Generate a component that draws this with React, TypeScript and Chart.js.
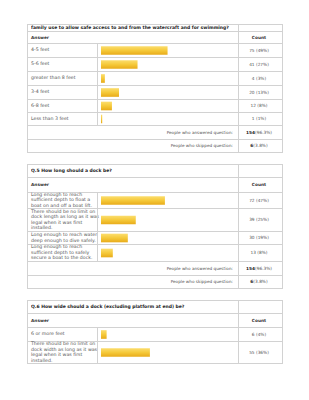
import React, { useEffect, useRef } from "react";
import { Chart, registerables } from "chart.js";

Chart.register(...registerables);

// ---------- data ----------
const q4Title = "family use to allow safe access to and from the watercraft and for swimming?";
const q4Answers = ["4-5 feet", "5-6 feet", "greater than 8 feet", "3-4 feet", "6-8 feet", "Less than 3 feet"];
const q4Counts = [75, 41, 4, 20, 12, 1];
const q4Percents = ["49%", "27%", "3%", "13%", "8%", "1%"];

const q5Title = "Q.5 How long should a dock be?";
const q5Answers = [
  "Long enough to reach\nsufficient depth to float a\nboat on and off a boat lift.",
  "There should be no limit on\ndock length as long as it was\nlegal when it was first\ninstalled.",
  "Long enough to reach water\ndeep enough to dive safely.",
  "Long enough to reach\nsufficient depth to safely\nsecure a boat to the dock.",
];
const q5Counts = [72, 39, 30, 13];
const q5Percents = ["47%", "25%", "19%", "8%"];

const q6Title = "Q.6 How wide should a dock (excluding platform at end) be?";
const q6Answers = [
  "6 or more feet",
  "There should be no limit on\ndock width as long as it was\nlegal when it was first\ninstalled.",
];
const q6Counts = [6, 55];
const q6Percents = ["4%", "36%"];

const answeredCounts = [154, 154, 154];
const answeredPercents = ["96.3%", "96.3%", "96.3%"];
const skippedCounts = [6, 6, 6];
const skippedPercents = ["3.8%", "3.8%", "3.8%"];

const headerAnswer = "Answer";
const headerCount = "Count";
const answeredLabel = "People who answered question:";
const skippedLabel = "People who skipped question:";

// ---------- layout ----------
const L = 27;
const R = 282;
const C1 = 97;
const C2 = 238;
const BAR_X = 101;
const BAR_W = 136;
const BORDER = "#d2d2d2";
const FONT = "'DejaVu Sans', Verdana, sans-serif";
const COUNT_CENTER = 259;

function BarCell({ value, max, top, height }: { value: number; max: number; top: number; height: number }) {
  const ref = useRef<HTMLCanvasElement>(null);
  useEffect(() => {
    const chart = new Chart(ref.current!, {
      type: "bar",
      data: {
        labels: [""],
        datasets: [
          {
            data: [value],
            backgroundColor: (c: any) => {
              const ch = c.chart;
              const area = ch.chartArea;
              if (!area) return "#f3c433";
              const mid = (area.top + area.bottom) / 2;
              const g = ch.ctx.createLinearGradient(0, mid - 4, 0, mid + 4);
              g.addColorStop(0, "#fbdc6a");
              g.addColorStop(0.5, "#f5c93a");
              g.addColorStop(1, "#e9ad1c");
              return g;
            },
            borderWidth: 0,
            barThickness: 8,
          },
        ],
      },
      options: {
        indexAxis: "y",
        animation: false,
        responsive: false,
        events: [],
        layout: { padding: 0 },
        scales: {
          x: { display: false, min: 0, max },
          y: { display: false },
        },
        plugins: { legend: { display: false }, tooltip: { enabled: false } },
      } as any,
    });
    return () => chart.destroy();
  }, [value, max, height]);
  return (
    <canvas
      ref={ref}
      width={BAR_W}
      height={height}
      style={{ position: "absolute", left: BAR_X, top, width: BAR_W, height }}
    />
  );
}

function HLine({ y, x1 = L, x2 = R }: { y: number; x1?: number; x2?: number }) {
  return <div style={{ position: "absolute", left: x1, top: y, width: x2 - x1 + 1, height: 1, background: BORDER }} />;
}
function VLine({ x, y1, y2 }: { x: number; y1: number; y2: number }) {
  return <div style={{ position: "absolute", left: x, top: y1, width: 1, height: y2 - y1, background: BORDER }} />;
}

function Table(props: {
  top: number;
  titleH: number;
  headerH: number;
  rowHeights: number[];
  footer: boolean;
  title: string;
  answers: string[];
  counts: number[];
  percents: string[];
  answered: number;
  answeredPct: string;
  skipped: number;
  skippedPct: string;
}) {
  const { top, titleH, headerH, rowHeights, footer } = props;
  const els: React.ReactNode[] = [];
  let y = top;
  // title
  els.push(
    <div
      key="title"
      style={{
        position: "absolute",
        left: L + 4,
        top: y,
        height: titleH,
        width: C2 - L - 6,
        display: "flex",
        alignItems: "center",
        font: `bold 4.5px ${FONT}`,
        color: "#222",
        whiteSpace: "nowrap",
        overflow: "hidden",
      }}
    >
      {props.title}
    </div>
  );
  y += titleH;
  els.push(<HLine key="ht" y={y} />);
  // header
  els.push(
    <div
      key="ha"
      style={{ position: "absolute", left: L + 4, top: y, height: headerH, display: "flex", alignItems: "center", font: `bold 4.3px ${FONT}`, color: "#333" }}
    >
      {headerAnswer}
    </div>
  );
  els.push(
    <div
      key="hc"
      style={{ position: "absolute", left: COUNT_CENTER - 20, width: 40, top: y, height: headerH, display: "flex", alignItems: "center", justifyContent: "center", font: `bold 4.3px ${FONT}`, color: "#333" }}
    >
      {headerCount}
    </div>
  );
  y += headerH;
  const rowsTop = y;
  props.answers.forEach((a, i) => {
    const h = rowHeights[i];
    els.push(<HLine key={"hr" + i} y={y} />);
    els.push(
      <div
        key={"lab" + i}
        style={{
          position: "absolute",
          left: L + 4,
          top: y,
          height: h,
          width: C1 - L - 5,
          display: "flex",
          alignItems: "center",
          font: `4.7px ${FONT}`,
          lineHeight: "5.5px",
          color: "#555",
          whiteSpace: "pre",
        }}
      >
        {a}
      </div>
    );
    els.push(<BarCell key={"bar" + i} value={props.counts[i]} max={props.answered} top={y + 1} height={h - 1} />);
    els.push(
      <div
        key={"cnt" + i}
        style={{ position: "absolute", left: COUNT_CENTER - 20, width: 40, top: y, height: h, display: "flex", alignItems: "center", justifyContent: "center", font: `4.3px ${FONT}`, color: "#555", whiteSpace: "pre" }}
      >
        {`${props.counts[i]} (${props.percents[i]})`}
      </div>
    );
    y += h;
  });
  els.push(<VLine key="vc1" x={C1} y1={rowsTop} y2={y} />);
  if (footer) {
    const fh = [14, 13];
    const labels = [answeredLabel, skippedLabel];
    const nums = [props.answered, props.skipped];
    const pcts = [props.answeredPct, props.skippedPct];
    fh.forEach((h, i) => {
      els.push(<HLine key={"hf" + i} y={y} />);
      els.push(
        <div
          key={"fl" + i}
          style={{ position: "absolute", left: L, width: C2 - L - 5, top: y, height: h, display: "flex", alignItems: "center", justifyContent: "flex-end", font: `4.2px ${FONT}`, color: "#555", whiteSpace: "pre" }}
        >
          {labels[i]}
        </div>
      );
      els.push(
        <div
          key={"fc" + i}
          style={{ position: "absolute", left: COUNT_CENTER - 20, width: 40, top: y, height: h, display: "flex", alignItems: "center", justifyContent: "center", font: `4.3px ${FONT}`, color: "#555", whiteSpace: "pre" }}
        >
          <b style={{ color: "#222" }}>{nums[i]}</b>
          {`(${pcts[i]})`}
        </div>
      );
      y += h;
    });
  }
  const bottom = y;
  // outer border & count column line
  els.push(<HLine key="top" y={top} />);
  els.push(<HLine key="bot" y={bottom} />);
  els.push(<VLine key="vl" x={L} y1={top} y2={bottom + 1} />);
  els.push(<VLine key="vr" x={R} y1={top} y2={bottom + 1} />);
  els.push(<VLine key="vc2" x={C2} y1={top} y2={bottom} />);
  return <>{els}</>;
}

export default function App() {
  return (
    <div
      style={{
        position: "absolute",
        left: 0,
        top: 0,
        width: 309,
        height: 400,
        background: "#fff",
        overflow: "hidden",
      }}
    >
      <Table
        top={24}
        titleH={7}
        headerH={12}
        rowHeights={[14, 14, 14, 14, 13, 13]}
        footer={true}
        title={q4Title}
        answers={q4Answers}
        counts={q4Counts}
        percents={q4Percents}
        answered={answeredCounts[0]}
        answeredPct={answeredPercents[0]}
        skipped={skippedCounts[0]}
        skippedPct={skippedPercents[0]}
      />
      <Table
        top={164}
        titleH={13}
        headerH={15}
        rowHeights={[16, 23, 13, 17]}
        footer={true}
        title={q5Title}
        answers={q5Answers}
        counts={q5Counts}
        percents={q5Percents}
        answered={answeredCounts[1]}
        answeredPct={answeredPercents[1]}
        skipped={skippedCounts[1]}
        skippedPct={skippedPercents[1]}
      />
      <Table
        top={300}
        titleH={13}
        headerH={14}
        rowHeights={[14, 22]}
        footer={false}
        title={q6Title}
        answers={q6Answers}
        counts={q6Counts}
        percents={q6Percents}
        answered={answeredCounts[2]}
        answeredPct={answeredPercents[2]}
        skipped={skippedCounts[2]}
        skippedPct={skippedPercents[2]}
      />
    </div>
  );
}
